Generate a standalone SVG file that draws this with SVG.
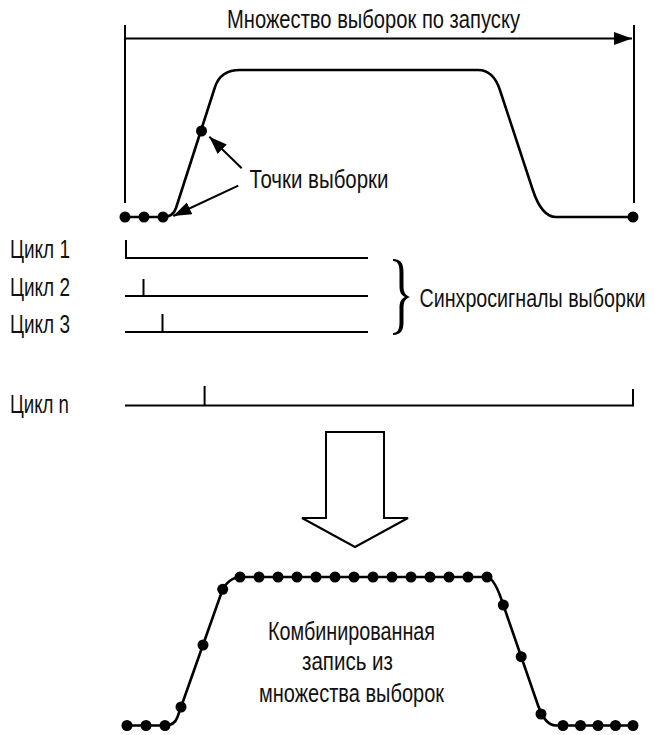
<svg xmlns="http://www.w3.org/2000/svg" width="654" height="735" viewBox="0 0 654 735">
<defs>
<style>
.t{font-family:"Liberation Sans","DejaVu Sans",sans-serif;font-size:25px;fill:#111;}
.ln{fill:none;stroke:#000;stroke-width:2;}
.wv{fill:none;stroke:#000;stroke-width:2.6;stroke-linejoin:round;}
.dot{fill:#000;}
</style>
<marker id="ah" markerUnits="userSpaceOnUse" markerWidth="20" markerHeight="14" refX="18" refY="6.5" orient="auto">
<path d="M0,0 L18,6.5 L0,13 z" fill="#000"/>
</marker>
</defs>
<rect width="654" height="735" fill="#fff"/>

<g id="title">
<text class="t" x="227" y="28.3" textLength="293" lengthAdjust="spacingAndGlyphs">Множество выборок по запуску</text>
<line class="ln" x1="125" y1="25" x2="125" y2="203"/>
<line class="ln" x1="634" y1="25" x2="634" y2="203"/>
</g>

<g id="waveform-top">
<path class="wv" d="M125,217 L163,217 Q173.1,217 176,208 L215,87 Q220.5,70 240,70 L478,70 Q493.4,70 499.9,90 L532.8,190 Q541.7,217 556,217 L633,217"/>
<circle class="dot" cx="125" cy="217" r="5.5"/>
<circle class="dot" cx="144" cy="217" r="5.5"/>
<circle class="dot" cx="163" cy="217" r="5.5"/>
<circle class="dot" cx="201.5" cy="131" r="5.5"/>
<circle class="dot" cx="633" cy="217" r="5.5"/>
</g>

<g id="sample-points-label">
<text class="t" x="249.5" y="188.3" textLength="139" lengthAdjust="spacingAndGlyphs">Точки выборки</text>
</g>

<g id="cycle1">
<text class="t" x="10" y="258" textLength="60" lengthAdjust="spacingAndGlyphs">Цикл 1</text>
<path class="ln" d="M126,240 L126,258 L368,258"/>
</g>
<g id="cycle2">
<text class="t" x="10" y="295.5" textLength="60" lengthAdjust="spacingAndGlyphs">Цикл 2</text>
<path class="ln" d="M125,296 L368,296 M143.5,279 L143.5,296"/>
</g>
<g id="cycle3">
<text class="t" x="10" y="333" textLength="60" lengthAdjust="spacingAndGlyphs">Цикл 3</text>
<path class="ln" d="M125,332 L368,332 M162.5,314 L162.5,332"/>
</g>
<g id="cyclen">
<text class="t" x="10" y="412.5" textLength="59" lengthAdjust="spacingAndGlyphs">Цикл n</text>
<path class="ln" d="M125,405.5 L633,405.5 L633,389 M204.6,386 L204.6,405.5"/>
</g>

<g id="brace">
<path d="M393,259 C401,259 403.5,264 403.5,272 L403.5,286 C403.5,292 405,295 410,297 C405,299 403.5,302 403.5,308 L403.5,322 C403.5,330 401,335 393,335 L393,333 C398,333 399.5,329 399.5,322 L399.5,308 C399.5,302 401,299 405,297 C401,295 399.5,292 399.5,286 L399.5,272 C399.5,265 398,261 393,261 Z" fill="#000"/>
<text class="t" transform="translate(419.5,306.7) scale(0.7875,1)" x="0" y="0" textLength="287" lengthAdjust="spacingAndGlyphs">Синхросигналы выборки</text>
</g>

<g id="big-arrow">
<polygon points="326,432 384,432 384,518 408,518 355,547 302,518 326,518" fill="#fff" stroke="#000" stroke-width="2" stroke-linejoin="miter"/>
</g>

<g id="waveform-bottom">
<path class="wv" d="M127,725.5 L165,725.5 Q174.5,725.5 177.5,717 L221,594 Q227,577 242,577 L486,577 Q493.6,577 501,598.3 L537.9,705 Q545,725.5 556,725.5 L633,725.5"/>
<g class="dot">
<circle cx="127" cy="725.5" r="5.5"/>
<circle cx="146" cy="725.5" r="5.5"/>
<circle cx="165" cy="725.5" r="5.5"/>
<circle cx="181" cy="707" r="5.5"/>
<circle cx="203" cy="645" r="5.5"/>
<circle cx="222.7" cy="589.3" r="5.5"/>
<circle cx="240" cy="577" r="5.5"/>
<circle cx="259" cy="577" r="5.5"/>
<circle cx="278" cy="577" r="5.5"/>
<circle cx="297" cy="577" r="5.5"/>
<circle cx="316" cy="577" r="5.5"/>
<circle cx="335" cy="577" r="5.5"/>
<circle cx="354" cy="577" r="5.5"/>
<circle cx="373" cy="577" r="5.5"/>
<circle cx="392" cy="577" r="5.5"/>
<circle cx="411" cy="577" r="5.5"/>
<circle cx="430" cy="577" r="5.5"/>
<circle cx="449" cy="577" r="5.5"/>
<circle cx="468" cy="577" r="5.5"/>
<circle cx="487" cy="577" r="5.5"/>
<circle cx="503.3" cy="605" r="5.5"/>
<circle cx="521.2" cy="656.7" r="5.5"/>
<circle cx="541" cy="714" r="5.5"/>
<circle cx="563" cy="725.5" r="5.5"/>
<circle cx="580.5" cy="725.5" r="5.5"/>
<circle cx="598" cy="725.5" r="5.5"/>
<circle cx="615.5" cy="725.5" r="5.5"/>
<circle cx="633" cy="725.5" r="5.5"/>
</g>
<text class="t" x="268" y="640" textLength="167" lengthAdjust="spacingAndGlyphs">Комбинированная</text>
<text class="t" x="302" y="670" textLength="91" lengthAdjust="spacingAndGlyphs">запись из</text>
<text class="t" x="259" y="701.7" textLength="185" lengthAdjust="spacingAndGlyphs">множества выборок</text>
</g>

<g id="connectors">
<line class="ln" x1="125" y1="38.5" x2="632" y2="38.5" marker-end="url(#ah)"/>
<line class="ln" x1="241.7" y1="168.3" x2="209.3" y2="136.7" marker-end="url(#ah)"/>
<line class="ln" x1="238.3" y1="185.7" x2="173.3" y2="216" marker-end="url(#ah)"/>
</g>
</svg>
